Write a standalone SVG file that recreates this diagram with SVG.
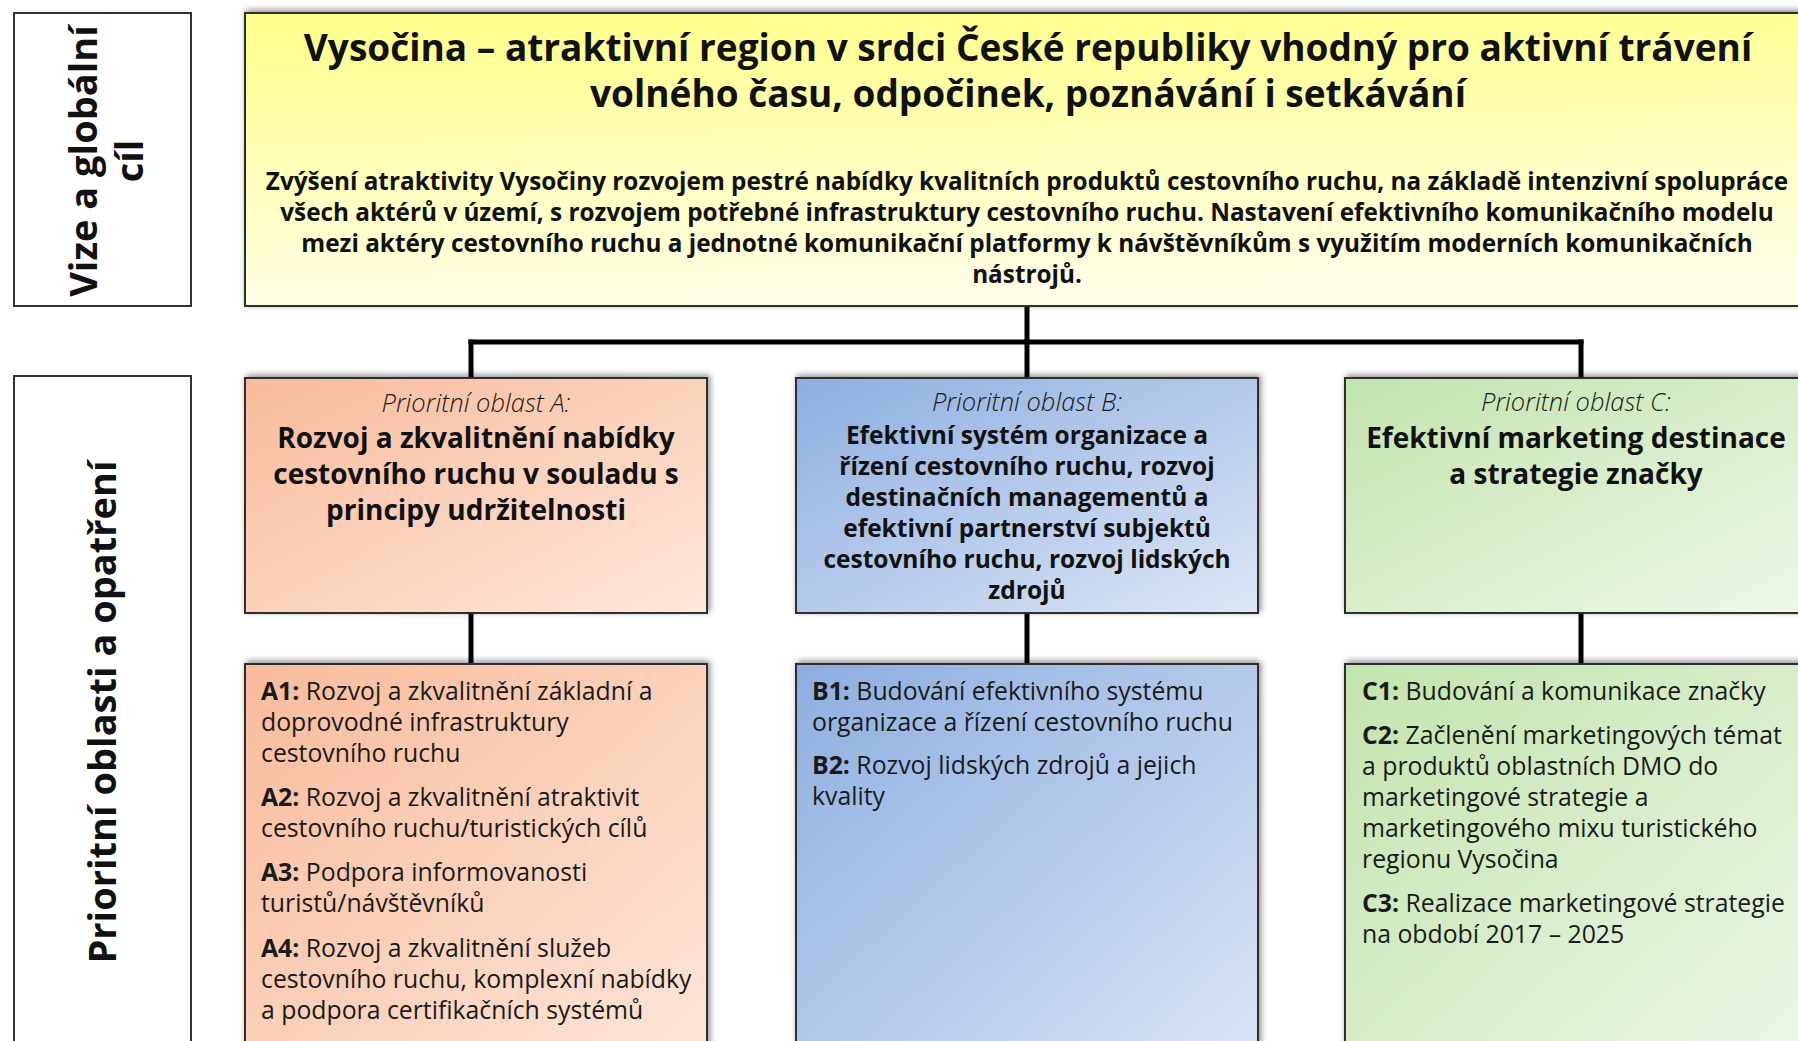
<svg xmlns="http://www.w3.org/2000/svg" width="1798" height="1041" viewBox="0 0 1798 1041">
<style>
  text { font-family: "Open Sans", "Noto Sans", "DejaVu Sans", sans-serif; fill: #111; }
  .lbl { font-size: 38px; font-weight: bold; text-anchor: middle; }
  .title { font-size: 37px; font-weight: bold; text-anchor: middle; }
  .body { font-size: 24.3px; font-weight: bold; text-anchor: middle; }
  .ital { font-size: 25.5px; font-style: italic; font-weight: 300; text-anchor: middle; fill: #1a1a1a; }
  .ht { font-size: 28px; font-weight: bold; text-anchor: middle; }
  .htb { font-size: 24.5px; font-weight: bold; text-anchor: middle; }
  .item { font-size: 24.8px; fill: #1a1a1a; }
  .item tspan.k { font-weight: bold; }
  .lblbox { fill: #fff; stroke: #333; stroke-width: 2; }
  .box { stroke: #2e2e2e; stroke-width: 2; filter: url(#sh); }
  .conn { stroke: #000; stroke-width: 5; fill: none; stroke-linecap: square; }
</style>
<defs>
  <filter id="sh" x="-5%" y="-10%" width="112%" height="125%">
    <feDropShadow dx="2" dy="-2" stdDeviation="3" flood-color="#000" flood-opacity="0.45"/>
  </filter>
  <linearGradient id="gY" x1="0" y1="0" x2="0.15" y2="1">
    <stop offset="0" stop-color="#ffff88"/>
    <stop offset="1" stop-color="#fffee6"/>
  </linearGradient>
  <linearGradient id="gA" x1="0" y1="0" x2="1" y2="1">
    <stop offset="0" stop-color="#f9bb9b"/>
    <stop offset="1" stop-color="#fde7db"/>
  </linearGradient>
  <linearGradient id="gB" x1="0" y1="0" x2="1" y2="1">
    <stop offset="0" stop-color="#8daee0"/>
    <stop offset="1" stop-color="#dde6f5"/>
  </linearGradient>
  <linearGradient id="gC" x1="0" y1="0" x2="1" y2="1">
    <stop offset="0" stop-color="#c2e4ad"/>
    <stop offset="1" stop-color="#eef7e9"/>
  </linearGradient>
</defs>
<rect width="1798" height="1041" fill="#fff"/>

<g id="connectors">
  <line class="conn" x1="1027" y1="306" x2="1027" y2="342"/>
  <line class="conn" x1="471" y1="342" x2="1581" y2="342"/>
  <line class="conn" x1="471" y1="342" x2="471" y2="378"/>
  <line class="conn" x1="1027" y1="342" x2="1027" y2="378"/>
  <line class="conn" x1="1581" y1="342" x2="1581" y2="378"/>
  <line class="conn" x1="471" y1="613" x2="471" y2="664"/>
  <line class="conn" x1="1027" y1="613" x2="1027" y2="664"/>
  <line class="conn" x1="1581" y1="613" x2="1581" y2="664"/>
</g>

<g id="label-vize">
  <rect class="lblbox" x="14" y="13" width="177" height="293"/>
  <text class="lbl" transform="translate(97,161) rotate(-90)">Vize a globální</text>
  <text class="lbl" transform="translate(143,161) rotate(-90)">cíl</text>
</g>

<g id="label-prioritni">
  <rect class="lblbox" x="14" y="376" width="177" height="700"/>
  <text class="lbl" transform="translate(116,712) rotate(-90)">Prioritní oblasti a opatření</text>
</g>

<g id="vize">
  <rect class="box" x="245" y="13" width="1570" height="293" fill="url(#gY)"/>
  <text class="title" x="1028" y="61">Vysočina – atraktivní region v srdci České republiky vhodný pro aktivní trávení</text>
  <text class="title" x="1028" y="107">volného času, odpočinek, poznávání i setkávání</text>
  <text class="body" x="1027" y="190">Zvýšení atraktivity Vysočiny rozvojem pestré nabídky kvalitních produktů cestovního ruchu, na základě intenzivní spolupráce</text>
  <text class="body" x="1027" y="221">všech aktérů v území, s rozvojem potřebné infrastruktury cestovního ruchu. Nastavení efektivního komunikačního modelu</text>
  <text class="body" x="1027" y="252">mezi aktéry cestovního ruchu a jednotné komunikační platformy k návštěvníkům s využitím moderních komunikačních</text>
  <text class="body" x="1027" y="283">nástrojů.</text>
</g>

<g id="oblast-a">
  <rect class="box" x="245" y="378" width="462" height="235" fill="url(#gA)"/>
  <text class="ital" x="476" y="412">Prioritní oblast A:</text>
  <text class="ht" x="476" y="448">Rozvoj a zkvalitnění nabídky</text>
  <text class="ht" x="476" y="484">cestovního ruchu v souladu s</text>
  <text class="ht" x="476" y="520">principy udržitelnosti</text>
</g>

<g id="oblast-b">
  <rect class="box" x="796" y="378" width="462" height="235" fill="url(#gB)"/>
  <text class="ital" x="1027" y="411">Prioritní oblast B:</text>
  <text class="htb" x="1027" y="444">Efektivní systém organizace a</text>
  <text class="htb" x="1027" y="475">řízení cestovního ruchu, rozvoj</text>
  <text class="htb" x="1027" y="506">destinačních managementů a</text>
  <text class="htb" x="1027" y="537">efektivní partnerství subjektů</text>
  <text class="htb" x="1027" y="568">cestovního ruchu, rozvoj lidských</text>
  <text class="htb" x="1027" y="599">zdrojů</text>
</g>

<g id="oblast-c">
  <rect class="box" x="1345" y="378" width="462" height="235" fill="url(#gC)"/>
  <text class="ital" x="1576" y="411">Prioritní oblast C:</text>
  <text class="ht" x="1576" y="448">Efektivní marketing destinace</text>
  <text class="ht" x="1576" y="484">a strategie značky</text>
</g>

<g id="opatreni-a">
  <rect class="box" x="245" y="664" width="462" height="420" fill="url(#gA)"/>
  <text class="item" x="261" y="700"><tspan class="k">A1:</tspan> Rozvoj a zkvalitnění základní a</text>
  <text class="item" x="261" y="731">doprovodné infrastruktury</text>
  <text class="item" x="261" y="762">cestovního ruchu</text>
  <text class="item" x="261" y="806"><tspan class="k">A2:</tspan> Rozvoj a zkvalitnění atraktivit</text>
  <text class="item" x="261" y="837">cestovního ruchu/turistických cílů</text>
  <text class="item" x="261" y="881"><tspan class="k">A3:</tspan> Podpora informovanosti</text>
  <text class="item" x="261" y="912">turistů/návštěvníků</text>
  <text class="item" x="261" y="957"><tspan class="k">A4:</tspan> Rozvoj a zkvalitnění služeb</text>
  <text class="item" x="261" y="988">cestovního ruchu, komplexní nabídky</text>
  <text class="item" x="261" y="1019">a podpora certifikačních systémů</text>
</g>

<g id="opatreni-b">
  <rect class="box" x="796" y="664" width="462" height="420" fill="url(#gB)"/>
  <text class="item" x="812" y="700"><tspan class="k">B1:</tspan> Budování efektivního systému</text>
  <text class="item" x="812" y="731">organizace a řízení cestovního ruchu</text>
  <text class="item" x="812" y="774"><tspan class="k">B2:</tspan> Rozvoj lidských zdrojů a jejich</text>
  <text class="item" x="812" y="805">kvality</text>
</g>

<g id="opatreni-c">
  <rect class="box" x="1345" y="664" width="462" height="420" fill="url(#gC)"/>
  <text class="item" x="1362" y="700"><tspan class="k">C1:</tspan> Budování a komunikace značky</text>
  <text class="item" x="1362" y="744"><tspan class="k">C2:</tspan> Začlenění marketingových témat</text>
  <text class="item" x="1362" y="775">a produktů oblastních DMO do</text>
  <text class="item" x="1362" y="806">marketingové strategie a</text>
  <text class="item" x="1362" y="837">marketingového mixu turistického</text>
  <text class="item" x="1362" y="868">regionu Vysočina</text>
  <text class="item" x="1362" y="912"><tspan class="k">C3:</tspan> Realizace marketingové strategie</text>
  <text class="item" x="1362" y="943">na období 2017 – 2025</text>
</g>
</svg>
